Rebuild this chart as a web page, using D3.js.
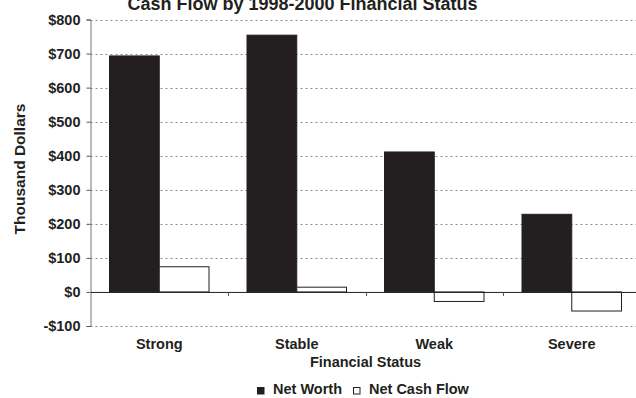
<!DOCTYPE html>
<html>
<head>
<meta charset="utf-8">
<script src="https://cdn.jsdelivr.net/npm/d3@7"></script>
<style>
  html, body { margin: 0; padding: 0; background: #fff; }
  svg { display: block; }
  text { font-family: "Liberation Sans", Arial, sans-serif; font-weight: bold; fill: #231f20; }
</style>
</head>
<body>
<svg id="chart" width="636" height="398"></svg>
<script>
// Net worth and net cash flow (thousand dollars) by financial status group
const categories = ["Strong", "Stable", "Weak", "Severe"];
const seriesNames = ["Net Worth", "Net Cash Flow"];
const netWorth = [693, 754, 411, 228];
const netCashFlow = [74, 14, -28, -56];
const yTicks = [-100, 0, 100, 200, 300, 400, 500, 600, 700, 800];

const svg = d3.select("#chart");
const W = 636, H = 398;
const plotLeft = 90.5, plotRight = 640.5, plotTop = 19.5, plotBottom = 326;

const rows = categories.map((c, i) => ({ cat: c, values: [netWorth[i], netCashFlow[i]] }));

const x0 = d3.scaleBand().domain(categories).range([plotLeft, plotRight]).paddingInner(0).paddingOuter(0);
const x1 = d3.scaleBand().domain(seriesNames).range([19, 118.5]).padding(0);
const y = d3.scaleLinear().domain([-100, 800]).range([plotBottom, plotTop]);

const fmt = v => (v < 0 ? "-$" : "$") + Math.abs(v);

// dotted gridlines
svg.append("g")
  .selectAll("line")
  .data(yTicks.filter(v => v !== 0))
  .join("line")
  .attr("x1", plotLeft).attr("x2", W)
  .attr("y1", d => Math.round(y(d)) + 0.5).attr("y2", d => Math.round(y(d)) + 0.5)
  .attr("stroke", "#8a8a8a")
  .attr("stroke-width", 1)
  .attr("stroke-dasharray", "2,3");

// y axis
const yAxis = svg.append("g")
  .attr("transform", `translate(${plotLeft},0)`)
  .call(d3.axisLeft(y).tickValues(yTicks).tickFormat(fmt).tickSize(4).tickPadding(6));
yAxis.select(".domain").attr("stroke", "#777");
yAxis.selectAll(".tick line").attr("stroke", "#555");
yAxis.selectAll(".tick text")
  .attr("font-size", 14.5)
  .attr("font-family", "Liberation Sans, Arial, sans-serif")
  .attr("font-weight", "bold")
  .attr("fill", "#231f20");

// bars
const groups = svg.append("g")
  .selectAll("g")
  .data(rows)
  .join("g")
  .attr("transform", d => `translate(${x0(d.cat)},0)`);

groups.selectAll("rect")
  .data(d => d.values.map((v, i) => ({ key: seriesNames[i], v })))
  .join("rect")
  .attr("x", d => x1(d.key))
  .attr("width", x1.bandwidth())
  .attr("y", d => y(Math.max(0, d.v)))
  .attr("height", d => Math.abs(y(d.v) - y(0)))
  .attr("fill", d => d.key === "Net Worth" ? "#231f20" : "#ffffff")
  .attr("stroke", "#231f20")
  .attr("stroke-width", 1);

// zero baseline with category ticks
const xAxis = svg.append("g")
  .attr("transform", `translate(0,${y(0)})`)
  .call(d3.axisBottom(x0).tickSize(0).tickFormat(""));
xAxis.select(".domain").attr("stroke", "#231f20");
svg.append("g")
  .selectAll("line")
  .data(categories.slice(1))
  .join("line")
  .attr("x1", d => Math.round(x0(d)) + 0.5).attr("x2", d => Math.round(x0(d)) + 0.5)
  .attr("y1", y(0)).attr("y2", y(0) + 4)
  .attr("stroke", "#555");

// category labels
svg.append("g")
  .selectAll("text")
  .data(categories)
  .join("text")
  .attr("x", d => x0(d) + x0.bandwidth() / 2)
  .attr("y", 349)
  .attr("text-anchor", "middle")
  .attr("font-size", 14.5)
  .text(d => d);

// axis titles
svg.append("text")
  .attr("x", (plotLeft + plotRight) / 2)
  .attr("y", 367)
  .attr("text-anchor", "middle")
  .attr("font-size", 14.5)
  .text("Financial Status");

svg.append("text")
  .attr("transform", "translate(25,169) rotate(-90)")
  .attr("text-anchor", "middle")
  .attr("font-size", 15.5)
  .text("Thousand Dollars");

// title
svg.append("text")
  .attr("x", 302.5)
  .attr("y", 10)
  .attr("text-anchor", "middle")
  .attr("font-size", 18)
  .text("Cash Flow by 1998-2000 Financial Status");

// legend
const legend = svg.append("g").attr("transform", "translate(257,394)");
const legendItems = [
  { name: seriesNames[0], fill: "#231f20", x: 0 },
  { name: seriesNames[1], fill: "#ffffff", x: 96 }
];
const li = legend.selectAll("g").data(legendItems).join("g")
  .attr("transform", d => `translate(${d.x},0)`);
li.append("rect")
  .attr("x", 0.5).attr("y", -6.5)
  .attr("width", 6.5).attr("height", 6.5)
  .attr("fill", d => d.fill)
  .attr("stroke", "#231f20").attr("stroke-width", 1);
li.append("text")
  .attr("x", 16).attr("y", 0)
  .attr("font-size", 14.5)
  .text(d => d.name);
</script>
</body>
</html>
